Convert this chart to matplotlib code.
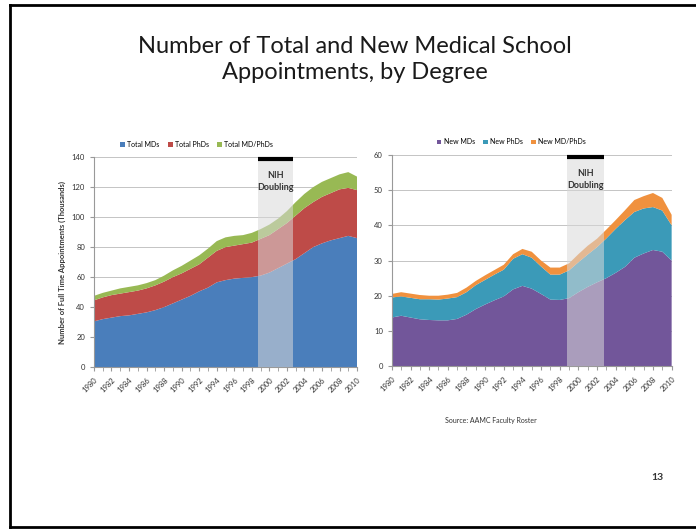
import numpy as np
import matplotlib
matplotlib.use("Agg")
import matplotlib.pyplot as plt
from matplotlib.lines import Line2D
from matplotlib.patches import Patch

plt.rcParams["font.family"] = ["Lato", "DejaVu Sans"]

years = list(range(1980, 2011))

# total appointments, thousands
total_mds = [30.5, 32, 33, 34, 34.5, 35.5, 36.5, 38, 40, 42.5, 45, 47.5, 50.5, 53, 56.5,
             58, 59, 59.5, 60, 61, 63, 66, 69, 72, 76, 80, 82.5, 84.5, 86, 87.5, 86]
total_phds = [14, 14.5, 15, 15, 15.5, 15.5, 16, 16.5, 17, 17.5, 17.5, 18, 18, 20, 21,
              22, 22, 22.5, 23, 24.5, 25, 26, 27, 29, 30, 30, 31, 31.5, 32.5, 32, 32]
total_mdphds = [3, 3, 3, 3.5, 3.5, 3.5, 3.5, 3.5, 4, 4.5, 5, 5.5, 6, 6, 6.5,
                6.5, 6.5, 6, 6.5, 6.5, 7, 7, 8, 9, 9.5, 10, 10, 10, 10, 10.5, 9]

# new appointments, thousands
new_mds = [13.8, 14.3, 13.8, 13.3, 13.1, 13.0, 13.0, 13.4, 14.6, 16.2, 17.5, 18.7, 19.8, 21.8, 22.8,
           22.0, 20.5, 18.9, 18.8, 19.3, 21.0, 22.5, 23.8, 25.0, 26.5, 28.2, 30.8, 32.0, 33.0, 32.5, 30.0]
new_phds = [5.7, 5.5, 5.6, 5.7, 5.9, 5.9, 6.2, 6.2, 6.4, 6.8, 7.0, 7.3, 7.6, 8.7, 9.0,
            8.8, 7.8, 7.1, 7.2, 7.9, 8.5, 9.2, 10.0, 11.3, 12.5, 13.3, 13.0, 12.8, 12.2, 11.7, 10.0]
new_mdphds = [1.0, 1.2, 1.2, 1.2, 1.0, 1.1, 1.1, 1.2, 1.3, 1.2, 1.3, 1.3, 1.4, 1.3, 1.5,
              1.7, 1.7, 2.0, 2.0, 2.0, 2.3, 2.5, 2.4, 2.5, 2.5, 2.8, 3.4, 3.5, 4.0, 3.6, 3.0]

doubling = (1998.75, 2002.75)

total_labels = ["Total MDs", "Total PhDs", "Total MD/PhDs"]
new_labels = ["New MDs", "New PhDs", "New MD/PhDs"]
total_colors = ["#4a7ebb", "#be4b48", "#98b954"]
new_colors = ["#72569a", "#3b9ab8", "#f0913e"]


def stacked_panel(ax, series, labels, colors, ymax, ystep, leg_x):
    ax.stackplot(years, *series, colors=colors, linewidth=0)
    ax.set_xlim(1980, 2010)
    ax.set_ylim(0, ymax)
    ax.set_yticks(np.arange(0, ymax + 1, ystep))
    ax.set_xticks(years, minor=True)
    ax.set_xticks(years[::2])
    ax.set_xticklabels([str(y) for y in years[::2]], rotation=45, ha="right",
                       rotation_mode="anchor", fontsize=5.5, color="#333333")
    ax.tick_params(axis="y", labelsize=5.5, labelcolor="#333333", length=3, color="#999999")
    ax.tick_params(axis="x", which="both", length=3, color="#999999")
    ax.grid(axis="y", color="#c4c4c4", linewidth=0.7)
    ax.set_axisbelow(True)
    for s in ["top", "right"]:
        ax.spines[s].set_visible(False)
    for s in ["left", "bottom"]:
        ax.spines[s].set_color("#999999")
        ax.spines[s].set_linewidth(0.8)

    # NIH doubling band with marker bar
    ax.axvspan(*doubling, color="#d9d9d9", alpha=0.55, linewidth=0, zorder=3)
    ax.plot(doubling, [ymax * 0.99] * 2, color="black", linewidth=3,
            solid_capstyle="butt", clip_on=False, zorder=4)
    ax.text(sum(doubling) / 2, ymax * 0.935, "NIH\nDoubling", ha="center", va="top",
            fontsize=6.5, fontweight="bold", color="#333333", linespacing=1.45, zorder=5)

    handles = [Patch(facecolor=c, edgecolor="none") for c in colors]
    ax.legend(handles, labels, loc="lower left", bbox_to_anchor=(leg_x, 1.045), ncol=3,
              frameon=False, fontsize=5, handlelength=0.7, handleheight=0.7,
              handletextpad=0.3, columnspacing=1.2, borderaxespad=0, borderpad=0)


fig = plt.figure(figsize=(6.96, 5.29), dpi=100)

ax1 = fig.add_axes([0.135, 0.306, 0.378, 0.397])
stacked_panel(ax1, [total_mds, total_phds, total_mdphds], total_labels, total_colors, 140, 20, 0.1)
ax1.set_ylabel("Number of Full Time Appointments (Thousands)", fontsize=5.5,
               fontweight="bold", color="#333333", labelpad=4)

ax2 = fig.add_axes([0.563, 0.308, 0.402, 0.399])
stacked_panel(ax2, [new_mds, new_phds, new_mdphds], new_labels, new_colors, 60, 10, 0.16)

fig.text(0.51, 0.887, "Number of Total and New Medical School\nAppointments, by Degree",
         ha="center", va="center", fontsize=17, color="#1a1a1a", linespacing=1.3)
fig.text(0.705, 0.205, "Source: AAMC Faculty Roster", ha="center", va="center",
         fontsize=5, color="#333333")
fig.text(0.945, 0.098, "13", ha="center", va="center", fontsize=7.5,
         fontweight="bold", color="#333333")

# slide frame
fig.add_artist(Line2D([0.0145, 1.0], [0.99, 0.99], color="black", linewidth=2))
fig.add_artist(Line2D([0.0145, 0.0145], [0.004, 0.99], color="black", linewidth=2))
fig.add_artist(Line2D([0.0145, 1.0], [0.004, 0.004], color="black", linewidth=2))

fig.savefig("out.png", dpi=100)
